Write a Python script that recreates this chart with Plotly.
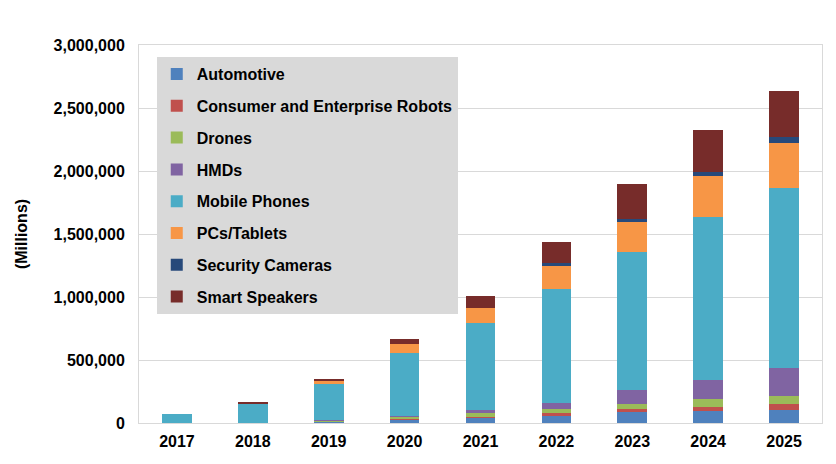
import plotly.graph_objects as go

years = ["2017", "2018", "2019", "2020", "2021", "2022", "2023", "2024", "2025"]

automotive = [0, 2000, 8000, 28000, 45000, 63000, 87000, 95000, 101000]
robots = [0, 0, 2000, 4000, 6000, 13000, 21000, 34000, 48000]
drones = [0, 1000, 9000, 18000, 29000, 34000, 42000, 59000, 66000]
hmds = [0, 1000, 3000, 8000, 21000, 50000, 111000, 153000, 225000]
mobile = [69000, 152000, 285000, 497000, 696000, 900000, 1093000, 1291000, 1429000]
pcs = [0, 0, 32000, 72000, 116000, 193000, 243000, 330000, 352000]
security = [0, 1000, 2000, 2000, 3000, 13000, 24000, 32000, 48000]
speakers = [0, 4000, 8000, 37000, 95000, 171000, 278000, 331000, 367000]

series_names = ["Automotive", "Consumer and Enterprise Robots", "Drones", "HMDs",
                "Mobile Phones", "PCs/Tablets", "Security Cameras", "Smart Speakers"]
series_values = [automotive, robots, drones, hmds, mobile, pcs, security, speakers]
series_colors = ["#4f81bd", "#c0504d", "#9bbb59", "#8064a2",
                 "#4bacc6", "#f79646", "#27497a", "#772c2a"]

y_ticks = [0, 500000, 1000000, 1500000, 2000000, 2500000, 3000000]

FONT = "Liberation Sans, Arial, sans-serif"

fig = go.Figure()
for name, vals, col in zip(series_names, series_values, series_colors):
    fig.add_trace(go.Bar(
        x=years, y=vals, name=name, legendgroup=name,
        marker=dict(color=col, line=dict(width=0)),
    ))

# page body has an 8px default margin, so the figure is sized/offset to compensate
fig.update_layout(
    barmode="stack",
    bargap=0.61,
    width=828, height=456,
    margin=dict(l=124, r=14, t=37, b=41),
    paper_bgcolor="white",
    plot_bgcolor="white",
    font=dict(family=FONT, size=16, color="#000000", weight="bold"),
    legend=dict(
        x=0.026, y=0.968, xanchor="left", yanchor="top",
        bgcolor="#d9d9d9",
        borderwidth=0,
        traceorder="grouped",
        tracegroupgap=8,
        font=dict(family=FONT, size=16, color="#000000", weight="bold"),
    ),
    xaxis=dict(
        showgrid=False,
        showline=True, linecolor="#d9d9d9", linewidth=1, mirror=True,
        ticks="", ticklabelstandoff=4,
        tickfont=dict(family=FONT, size=16, weight="bold"),
    ),
    yaxis=dict(
        range=[0, 3000000],
        tickvals=y_ticks,
        tickformat=",d",
        showgrid=True, gridcolor="#d9d9d9", gridwidth=1,
        showline=True, linecolor="#d9d9d9", linewidth=1, mirror=True,
        zeroline=False,
        ticks="", ticklabelstandoff=10,
        tickfont=dict(family=FONT, size=16, weight="bold"),
        title=dict(text="(Millions)", standoff=22,
                   font=dict(family=FONT, size=16, weight="bold")),
    ),
)

fig.write_html("out.html")
